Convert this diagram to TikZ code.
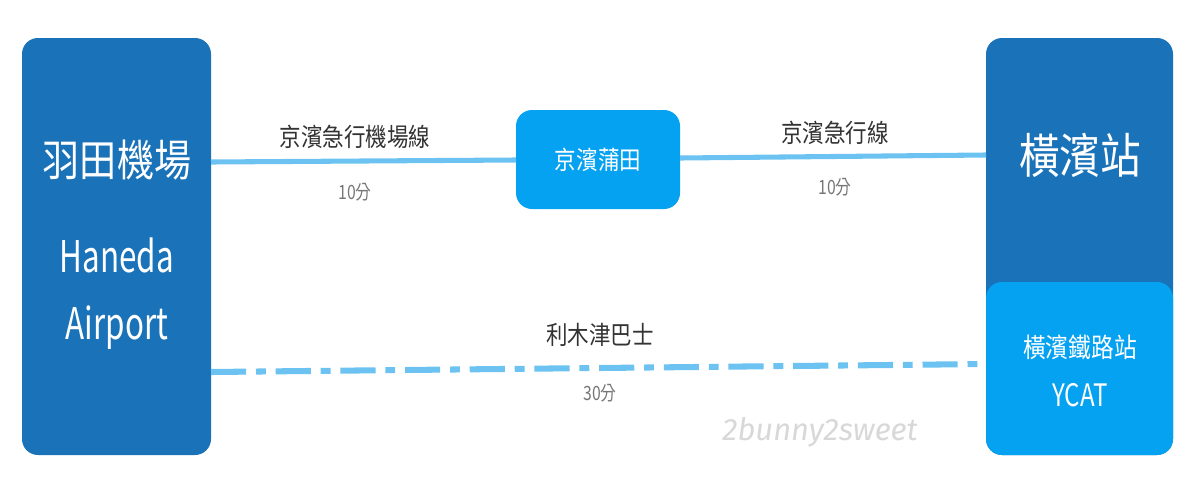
\documentclass[tikz,border=0pt]{standalone}
\usepackage{fontspec}
\setmainfont{Noto Sans CJK TC}
\newfontfamily\cjk{Noto Sans CJK TC}
\newfontfamily\latin{Fira Sans}
\definecolor{darkbox}{HTML}{1A72B8}
\definecolor{lightbox}{HTML}{06A2F2}
\definecolor{route}{HTML}{6CC3F2}
\definecolor{labeltext}{HTML}{333333}
\definecolor{timetext}{HTML}{777777}
\definecolor{mark}{HTML}{D8D8D8}
\tikzset{
  station/.style={rounded corners=0.4cm, draw=none},
  rail/.style={route, line width=3.6pt},
  busline/.style={route, line width=4.3pt, dash pattern=on 25pt off 7pt on 7pt off 7pt},
  linename/.style={text=labeltext, font=\cjk\fontsize{18}{20}\selectfont, xscale=0.85, transform shape},
  traveltime/.style={text=timetext, font=\cjk\fontsize{14}{16}\selectfont, xscale=0.8, transform shape},
  bigname/.style={text=white, font=\cjk\fontsize{31}{34}\selectfont, xscale=0.85, transform shape},
}
\begin{document}
\begin{tikzpicture}[x=0.025cm, y=-0.025cm]
  \useasboundingbox (0,0) rectangle (1200,487);
  % stations
  \fill[station, darkbox] (22,38) rectangle (211,455);
  \fill[station, darkbox] (986,38) rectangle (1173,455);
  \fill[station, lightbox] (986,282) rectangle (1173,455);
  \fill[station, lightbox] (516,110) rectangle (680,209);
  \coordinate (haneda) at (211,162);
  \coordinate (kamataW) at (516,160);
  \coordinate (kamataE) at (680,158);
  \coordinate (yokohama) at (986,155);
  \coordinate (busfrom) at (211,372);
  \coordinate (busto) at (986,364);
  % routes
  \draw[rail] (haneda) -- (kamataW);
  \draw[rail] (kamataE) -- (yokohama);
  \draw[busline] (busfrom) -- (busto);
  % station names
  \node[bigname] (hnd) at (117,160) {羽田機場};
  \node[text=white, font=\cjk\fontsize{31}{34}\selectfont, xscale=0.72, transform shape] (hnden) at (117,255) {Haneda};
  \node[text=white, font=\cjk\fontsize{31}{34}\selectfont, xscale=0.72, transform shape] (hndair) at (117,328) {Airport};
  \node[text=white, font=\cjk\fontsize{18}{20}\selectfont, xscale=0.85, transform shape] (kmt) at (598,160) {京濱蒲田};
  \node[text=white, font=\cjk\fontsize{34}{38}\selectfont, xscale=0.85, transform shape] (yok) at (1080,155) {橫濱站};
  \node[text=white, font=\cjk\fontsize{19}{22}\selectfont, xscale=0.85, transform shape] (ycat) at (1080,347) {橫濱鐵路站};
  \node[text=white, font=\cjk\fontsize{22}{24}\selectfont, xscale=0.78, transform shape] (ycaten) at (1080,395) {YCAT};
  % route labels
  \node[linename] (keikyuap) at (355,137) {京濱急行機場線};
  \node[traveltime] (t1) at (355,192) {10分};
  \node[linename] (keikyu) at (835,133) {京濱急行線};
  \node[traveltime] (t2) at (835,187) {10分};
  \node[linename] (limo) at (600,335) {利木津巴士};
  \node[traveltime] (t3) at (600,393) {30分};
  \node[text=mark, font=\latin\itshape\fontsize{22}{24}\selectfont] (wm) at (820,432) {2bunny2sweet};
\end{tikzpicture}
\end{document}
